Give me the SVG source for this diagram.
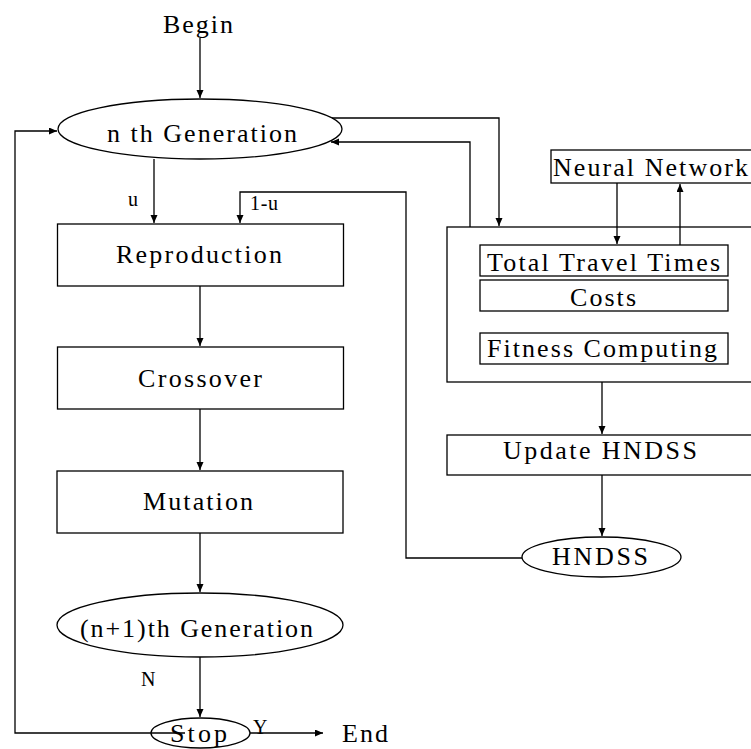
<svg xmlns="http://www.w3.org/2000/svg" width="751" height="749" viewBox="0 0 751 749">
<style>
.s{fill:none;stroke:#000;stroke-width:1.3}
.n{fill:#fff;stroke:#000;stroke-width:1.3}
.t{font-family:"Liberation Serif","Times New Roman",serif;font-size:26px;fill:#000}
.l{font-family:"Liberation Serif","Times New Roman",serif;font-size:20px;fill:#000}
</style>
<defs>
<marker id="a" markerUnits="userSpaceOnUse" markerWidth="9" markerHeight="8" refX="8" refY="3.5" orient="auto">
<path d="M0,0 L8,3.5 L0,7 z" fill="#000"/>
</marker>
</defs>
<rect width="751" height="749" fill="#fff"/>
<g id="begin"><text class="t" x="163" y="33" font-size="22" textLength="70" lengthAdjust="spacing">Begin</text></g>
<g id="nth"><ellipse class="n" cx="200" cy="129" rx="142" ry="30"/><text class="t" x="107" y="142" textLength="190" lengthAdjust="spacing">n th Generation</text></g>
<g id="reproduction"><rect class="n" x="57.5" y="224" width="286" height="62"/><text class="t" x="116" y="263" textLength="166" lengthAdjust="spacing">Reproduction</text></g>
<g id="crossover"><rect class="n" x="57.5" y="347" width="286" height="62"/><text class="t" x="138" y="387" textLength="124" lengthAdjust="spacing">Crossover</text></g>
<g id="mutation"><rect class="n" x="57" y="471" width="286" height="62"/><text class="t" x="143" y="510" textLength="110" lengthAdjust="spacing">Mutation</text></g>
<g id="n1th"><ellipse class="n" cx="200" cy="625" rx="143" ry="32"/><text class="t" x="80" y="637" textLength="233" lengthAdjust="spacing">(n+1)th Generation</text></g>
<g id="stop"><ellipse class="n" cx="200.5" cy="733" rx="49.5" ry="15"/><text class="t" x="170" y="742" font-size="24" textLength="57" lengthAdjust="spacing">Stop</text></g>
<g id="end"><text class="t" x="342" y="742" font-size="24" textLength="46" lengthAdjust="spacing">End</text></g>
<g id="evaluation"><rect class="n" x="447" y="227" width="320" height="155"/></g>
<g id="neural"><rect class="n" x="551" y="150" width="220" height="33"/><text class="t" x="553" y="176" textLength="195" lengthAdjust="spacing">Neural Network</text></g>
<g id="ttt"><rect class="n" x="480" y="245" width="248" height="31"/><text class="t" x="487" y="271" textLength="233" lengthAdjust="spacing">Total Travel Times</text></g>
<g id="costs"><rect class="n" x="480" y="280" width="248" height="31"/><text class="t" x="570" y="306" textLength="66" lengthAdjust="spacing">Costs</text></g>
<g id="fitness"><rect class="n" x="480" y="333" width="248" height="31"/><text class="t" x="487" y="357" textLength="230" lengthAdjust="spacing">Fitness Computing</text></g>
<g id="update"><rect class="n" x="447" y="435" width="320" height="40"/><text class="t" x="503" y="459" textLength="194" lengthAdjust="spacing">Update HNDSS</text></g>
<g id="hndss"><ellipse class="n" cx="601.5" cy="557" rx="79.5" ry="20"/><text class="t" x="552" y="565" textLength="96" lengthAdjust="spacing">HNDSS</text></g>
<g id="connectors">
<path class="s" d="M200,38 V98" marker-end="url(#a)"/>
<path class="s" d="M185,733 H15 V131 H57" marker-end="url(#a)"/>
<path class="s" d="M332,118 H499 V226" marker-end="url(#a)"/>
<path class="s" d="M470,227 V142 H331" marker-end="url(#a)"/>
<path class="s" d="M154,159 V223" marker-end="url(#a)"/>
<path class="s" d="M522,558 H406 V192 H240 V223" marker-end="url(#a)"/>
<path class="s" d="M200,286 V346" marker-end="url(#a)"/>
<path class="s" d="M200,409 V470" marker-end="url(#a)"/>
<path class="s" d="M200,533 V592" marker-end="url(#a)"/>
<path class="s" d="M200,657 V717" marker-end="url(#a)"/>
<path class="s" d="M250,733 H323" marker-end="url(#a)"/>
<path class="s" d="M617,183 V244" marker-end="url(#a)"/>
<path class="s" d="M680,245 V184" marker-end="url(#a)"/>
<path class="s" d="M602,382 V434" marker-end="url(#a)"/>
<path class="s" d="M602,475 V536" marker-end="url(#a)"/>
<text class="l" x="128" y="206" textLength="10" lengthAdjust="spacing">u</text>
<text class="l" x="250" y="210" textLength="28" lengthAdjust="spacing">1-u</text>
<text class="l" x="141" y="686" font-size="17" textLength="12" lengthAdjust="spacing">N</text>
<text class="l" x="253" y="734" font-size="15" textLength="10" lengthAdjust="spacing">Y</text>
</g>
</svg>
